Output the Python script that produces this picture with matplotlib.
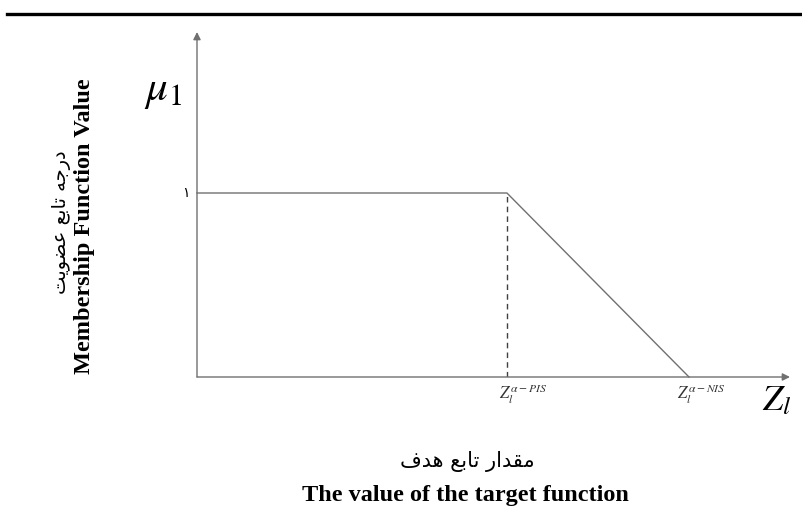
import matplotlib.pyplot as plt
from matplotlib.lines import Line2D

# membership function: flat at 1 until Z^{PIS}, then linear down to 0 at Z^{NIS}
z_points = [0.0, 0.63, 1.0]
mu_values = [1.0, 1.0, 0.0]
z_labels = [r'$Z_l^{\alpha-PIS}$', r'$Z_l^{\alpha-NIS}$']
y_tick_label = '\u06f1'

y_label_fa = 'درجه تابع عضویت'
y_label_en = 'Membership Function Value'
x_label_fa = 'مقدار تابع هدف'
x_label_en = 'The value of the target function'

# very small arabic shaper (matplotlib has no complex text layout)
FORMS = {
    'ا': ('\ufe8d', '\ufe8e', None, None),
    'ب': ('\ufe8f', '\ufe90', '\ufe91', '\ufe92'),
    'ت': ('\ufe95', '\ufe96', '\ufe97', '\ufe98'),
    'ج': ('\ufe9d', '\ufe9e', '\ufe9f', '\ufea0'),
    'د': ('\ufea9', '\ufeaa', None, None),
    'ر': ('\ufead', '\ufeae', None, None),
    'ض': ('\ufebd', '\ufebe', '\ufebf', '\ufec0'),
    'ع': ('\ufec9', '\ufeca', '\ufecb', '\ufecc'),
    'ف': ('\ufed1', '\ufed2', '\ufed3', '\ufed4'),
    'ق': ('\ufed5', '\ufed6', '\ufed7', '\ufed8'),
    'م': ('\ufee1', '\ufee2', '\ufee3', '\ufee4'),
    'ه': ('\ufee9', '\ufeea', '\ufeeb', '\ufeec'),
    'و': ('\ufeed', '\ufeee', None, None),
    'ی': ('\ufef1', '\ufef2', '\ufef3', '\ufef4'),
}


def shape(text):
    out = []
    for i, ch in enumerate(text):
        if ch not in FORMS:
            out.append(ch)
            continue
        prev = text[i - 1] if i > 0 else ' '
        nxt = text[i + 1] if i < len(text) - 1 else ' '
        joins_prev = prev in FORMS and FORMS[prev][2] is not None
        joins_next = nxt in FORMS and FORMS[ch][2] is not None
        iso, fin, ini, med = FORMS[ch]
        if joins_prev and joins_next:
            out.append(med)
        elif joins_prev:
            out.append(fin)
        elif joins_next:
            out.append(ini)
        else:
            out.append(iso)
    return ''.join(out)[::-1]


plt.rcParams['mathtext.fontset'] = 'stix'
W, H = 803, 509
fig = plt.figure(figsize=(W / 100, H / 100), dpi=100)


def fx(x):
    return x / W


def fy(y):
    return 1 - y / H


# rule at the top of the page
fig.add_artist(Line2D([fx(7), 1], [fy(14), fy(14)], color='black', lw=2.4))

# axes: origin at pixel (197, 377), NIS at x=689, mu=1 at y=193
x0, y0 = 197, 377
sx = 689 - x0
sy = y0 - 193
ax = fig.add_axes([fx(x0), fy(y0), (790 - x0) / W, (y0 - 32) / H])
ax.set_xlim(0, (790 - x0) / sx)
ax.set_ylim(0, (y0 - 32) / sy)
ax.axis('off')

gray = '#707070'
arrow = dict(arrowstyle='-|>', color=gray, lw=1.0, mutation_scale=11,
             shrinkA=0, shrinkB=0)
ax.annotate('', xy=(ax.get_xlim()[1], 0), xytext=(0, 0), arrowprops=arrow,
            annotation_clip=False)
ax.annotate('', xy=(0, ax.get_ylim()[1]), xytext=(0, 0), arrowprops=arrow,
            annotation_clip=False)

ax.plot(z_points, mu_values, color=gray, lw=1.0, clip_on=False)
ax.plot([z_points[1], z_points[1]], [0, mu_values[1]], color='#404040',
        lw=1.0, ls=(0, (4, 3)))

for z, lab, dx in zip(z_points[1:], z_labels, [-8, -12]):
    ax.annotate(lab, xy=(z, 0), xytext=(dx, -5), textcoords='offset pixels',
                ha='left', va='top', fontsize=12, color='#333333')

ax.annotate(y_tick_label, xy=(0, mu_values[0]), xytext=(-11, 0),
            textcoords='offset pixels', ha='center', va='center',
            fontsize=10, family=['DejaVu Sans'])

fig.text(fx(163), fy(90), r'$\mu_1$', fontsize=31, ha='center', va='center')
fig.text(fx(777), fy(400), r'$Z_l$', fontsize=26, ha='center', va='center')

# axis titles
fig.text(fx(62), fy(222), shape(y_label_fa), rotation=90, fontsize=14,
         ha='center', va='center', family=['DejaVu Sans'])
fig.text(fx(85), fy(226), y_label_en, rotation=90, fontsize=17.5,
         fontweight='bold', ha='center', va='center',
         family=['Liberation Serif'])
fig.text(fx(467), fy(462), shape(x_label_fa), fontsize=15,
         ha='center', va='center', family=['DejaVu Sans'])
fig.text(fx(465), fy(495), x_label_en, fontsize=17.5, fontweight='bold',
         ha='center', va='center', family=['Liberation Serif'])

fig.savefig('out.png', dpi=100)
